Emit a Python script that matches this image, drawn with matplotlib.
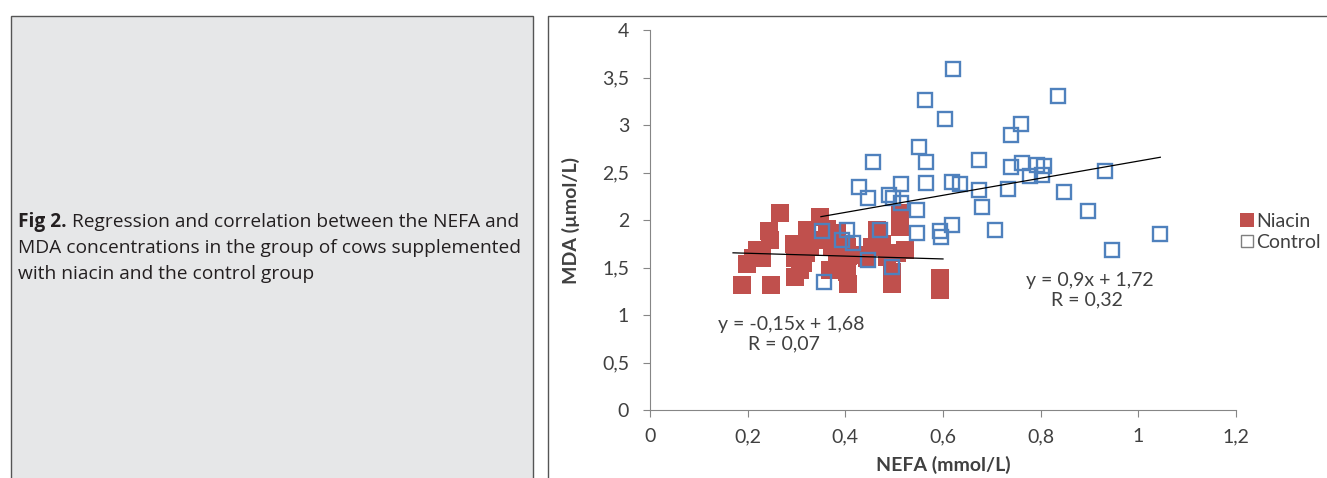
"""
plot.py
NEFA vs MDA scatter with regression lines (niacin vs control)
"""

import matplotlib
matplotlib.use('Agg')
import matplotlib.pyplot as plt
from matplotlib.patches import Rectangle
from matplotlib.ticker import FuncFormatter
from matplotlib.lines import Line2D

# data
niacin_x = [0.266, 0.348, 0.243, 0.246, 0.219, 0.198, 0.188, 0.247, 0.294, 0.297,
            0.297, 0.321, 0.328, 0.348, 0.362, 0.372, 0.383, 0.403, 0.403, 0.406,
            0.424, 0.444, 0.464, 0.475, 0.485, 0.495, 0.512, 0.512, 0.523, 0.594,
            0.594, 0.307, 0.369, 0.210, 0.230, 0.313, 0.320, 0.403, 0.406, 0.495,
            0.505, 0.382, 0.455]
niacin_y = [2.07, 2.03, 1.88, 1.79, 1.68, 1.54, 1.32, 1.32, 1.75, 1.60,
            1.40, 1.89, 1.72, 1.79, 1.91, 1.72, 1.86, 1.72, 1.54, 1.33,
            1.63, 1.60, 1.89, 1.75, 1.61, 1.33, 2.07, 1.93, 1.68, 1.39,
            1.26, 1.47, 1.47, 1.60, 1.60, 1.55, 1.65, 1.45, 1.62, 1.45,
            1.65, 1.62, 1.72]

control_x = [0.620, 0.835, 0.564, 0.604, 0.760, 0.740, 0.550, 0.456, 0.566, 0.673,
             0.740, 0.762, 0.792, 0.807, 0.779, 0.803, 0.427, 0.446, 0.490, 0.497,
             0.514, 0.566, 0.618, 0.634, 0.673, 0.734, 0.931, 0.848, 0.680, 0.896,
             0.546, 0.514, 0.618, 0.546, 0.594, 0.596, 0.707, 0.947, 1.044, 0.352,
             0.403, 0.393, 0.416, 0.471, 0.447, 0.495, 0.357]
control_y = [3.59, 3.31, 3.26, 3.06, 3.01, 2.89, 2.77, 2.61, 2.61, 2.63,
             2.56, 2.60, 2.58, 2.57, 2.46, 2.47, 2.35, 2.23, 2.26, 2.23,
             2.38, 2.39, 2.40, 2.38, 2.32, 2.33, 2.52, 2.29, 2.14, 2.09,
             2.11, 2.18, 1.95, 1.86, 1.88, 1.82, 1.89, 1.68, 1.85, 1.88,
             1.89, 1.79, 1.76, 1.89, 1.58, 1.51, 1.35]

# regression: slope, intercept, x range
niacin_fit = (-0.15, 1.68, 0.17, 0.60)
control_fit = (0.9, 1.72, 0.35, 1.045)

niacin_eq = 'y = -0,15x + 1,68\n      R = 0,07'
control_eq = 'y = 0,9x + 1,72\n     R = 0,32'

caption_bold = 'Fig 2.'
caption_lines = [' Regression and correlation between the NEFA and',
                 'MDA concentrations in the group of cows supplemented',
                 'with niacin and the control group']

RED = '#c0504d'
BLUE = '#4f81bd'
GREY = '#404040'

plt.rcParams['font.family'] = ['Lato', 'DejaVu Sans']

W, H = 1327, 478
fig = plt.figure(figsize=(W / 100, H / 100), dpi=100)

# left caption box
fig.patches.append(Rectangle((11 / W, -0.01), 522 / W, (H - 16) / H + 0.01,
                             transform=fig.transFigure, facecolor='#e6e7e8',
                             edgecolor='#555555', linewidth=1.0))
# right panel frame
fig.lines.append(Line2D([548 / W, 548 / W, 1.01], [-0.01, (H - 16) / H, (H - 16) / H],
                        transform=fig.transFigure, color='#555555', linewidth=1.0))

# caption text: bold lead then regular
capfont = ['Open Sans', 'DejaVu Sans']
capsize = 13.8
t1 = fig.text(18 / W, 1 - 222 / H, caption_bold, fontsize=capsize, fontweight='bold',
              family=capfont, color='#231f20', va='center', ha='left')
fig.canvas.draw()
bb = t1.get_window_extent()
fig.text(bb.x1 / W, 1 - 222 / H, caption_lines[0], fontsize=capsize, family=capfont,
         color='#231f20', va='center', ha='left')
for i, ln in enumerate(caption_lines[1:]):
    fig.text(18 / W, 1 - (248 + 26 * i) / H, ln, fontsize=capsize, family=capfont,
             color='#231f20', va='center', ha='left')

# scatter axes
ax = fig.add_axes([650 / W, 68 / H, 586 / W, 380 / H])
ax.plot(niacin_x, niacin_y, 's', color=RED, markersize=12.5, markeredgewidth=0,
        linestyle='none', label='Niacin', zorder=2)
ax.plot(control_x, control_y, 's', markerfacecolor='none', markeredgecolor=BLUE,
        markersize=10.5, markeredgewidth=1.7, linestyle='none', label='Control', zorder=3)

for m, b, x0, x1 in (niacin_fit, control_fit):
    ax.plot([x0, x1], [m * x0 + b, m * x1 + b], color='black', linewidth=0.9, zorder=4)

ax.text(0.139, 0.80, niacin_eq, fontsize=14, color=GREY, va='center', ha='left',
        linespacing=1.2)
ax.text(0.770, 1.26, control_eq, fontsize=14, color=GREY, va='center', ha='left',
        linespacing=1.2)

ax.set_xlim(0, 1.2)
ax.set_ylim(0, 4)
ax.set_xticks([0, 0.2, 0.4, 0.6, 0.8, 1.0, 1.2])
ax.set_yticks([0, 0.5, 1, 1.5, 2, 2.5, 3, 3.5, 4])
comma = FuncFormatter(lambda v, p: ('%g' % v).replace('.', ','))
ax.xaxis.set_major_formatter(comma)
ax.yaxis.set_major_formatter(comma)
ax.tick_params(direction='out', length=5, width=0.8, color='#868686',
               labelsize=14, labelcolor=GREY)
ax.tick_params(axis='x', pad=8)
ax.tick_params(axis='y', pad=10)
for s in ('top', 'right'):
    ax.spines[s].set_visible(False)
for s in ('left', 'bottom'):
    ax.spines[s].set_color('#868686')
    ax.spines[s].set_linewidth(0.8)

ax.set_xlabel('NEFA (mmol/L)', fontsize=14, fontweight='bold', color=GREY, labelpad=8)
ax.set_ylabel('MDA (\u00b5mol/L)', fontsize=14, fontweight='bold', color=GREY, labelpad=16)

leg_handles = [
    Line2D([], [], marker='s', color=RED, markersize=10, markeredgewidth=0, linestyle='none'),
    Line2D([], [], marker='s', markerfacecolor='none', markeredgecolor='#7f7f7f',
           markersize=9, markeredgewidth=1, linestyle='none'),
]
ax.legend(leg_handles, ['Niacin', 'Control'], loc='center left',
          bbox_to_anchor=(1224 / W, 1 - 232 / H), bbox_transform=fig.transFigure,
          frameon=False, fontsize=14, handlelength=0.6, handletextpad=0.15,
          labelspacing=0.2, labelcolor=GREY)

fig.savefig('out.png', dpi=100)
